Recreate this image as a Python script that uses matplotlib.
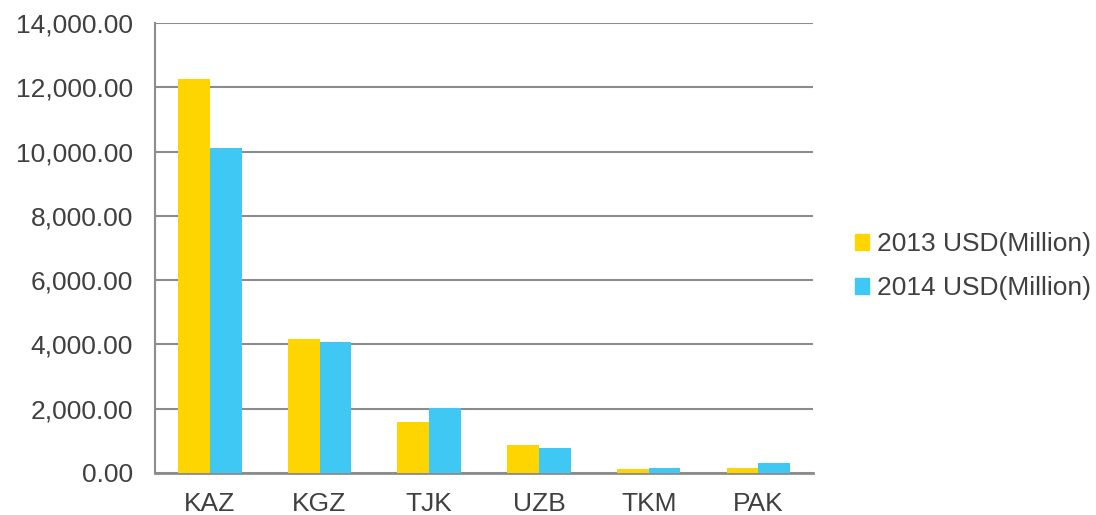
import numpy as np
import matplotlib.pyplot as plt
from matplotlib.patches import Patch

countries = ['KAZ', 'KGZ', 'TJK', 'UZB', 'TKM', 'PAK']
usd_2013 = [12250, 4155, 1577, 871, 115, 146]
usd_2014 = [10110, 4084, 2012, 768, 146, 323]

plt.rcParams['font.family'] = ['Liberation Sans', 'DejaVu Sans']

c2013 = '#FFD500'
c2014 = '#40C8F4'
grid_c = '#8C8C8C'
txt_c = '#404040'

fig = plt.figure(figsize=(10.96, 5.15), dpi=100)
ax = fig.add_axes([0.1414, 0.0816, 0.6006, 0.8737])

x = np.arange(len(countries))
w = 0.29
ax.bar(x - w / 2, usd_2013, w, color=c2013, zorder=3)
ax.bar(x + w / 2, usd_2014, w, color=c2014, zorder=3)

ax.set_xlim(-0.5, len(countries) - 0.5)
ax.set_ylim(0, 14000)
ax.set_yticks(np.arange(0, 14001, 2000))
ax.set_yticklabels(['{:,.2f}'.format(v) for v in range(0, 14001, 2000)])
ax.set_xticks(x)
ax.set_xticklabels(countries)
ax.yaxis.grid(True, color=grid_c, linewidth=1.5, zorder=0)
ax.set_axisbelow(True)

for s in ['top', 'right']:
    ax.spines[s].set_visible(False)
ax.spines['left'].set_color(grid_c)
ax.spines['left'].set_linewidth(1.5)
ax.spines['bottom'].set_color(grid_c)
ax.spines['bottom'].set_linewidth(2)
ax.tick_params(axis='both', length=0, labelsize=19, colors=txt_c)
ax.tick_params(axis='x', pad=14)
ax.tick_params(axis='y', pad=16)

handles = [Patch(color=c2013, label='2013 USD(Million)'),
           Patch(color=c2014, label='2014 USD(Million)')]
fig.legend(handles=handles, loc='center left', bbox_to_anchor=(0.78, 0.483),
           frameon=False, fontsize=19, labelcolor=txt_c, handlelength=0.55,
           handleheight=0.55, handletextpad=0.3, labelspacing=0.75,
           borderpad=0, borderaxespad=0)

fig.savefig('out.png')
